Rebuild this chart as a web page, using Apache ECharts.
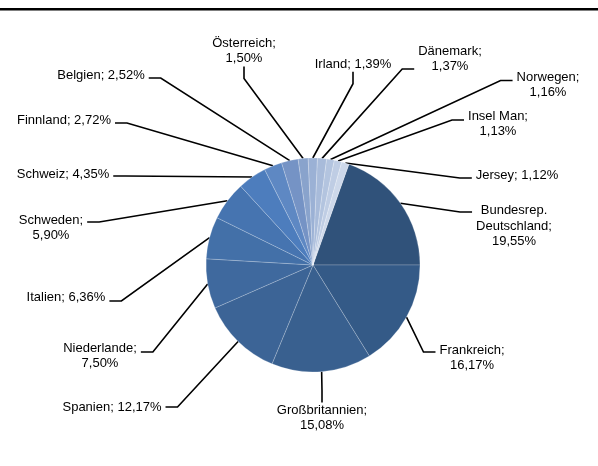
<!DOCTYPE html>
<html><head><meta charset="utf-8">
<script src="https://cdn.jsdelivr.net/npm/echarts@6/dist/echarts.min.js"></script>
<style>html,body{margin:0;padding:0;background:#fff}#c{width:598px;height:466px}</style>
</head><body><div id="c"></div>
<script>
// ---- data ----
const categories = ['Bundesrep. Deutschland','Frankreich','Großbritannien','Spanien','Niederlande','Italien','Schweden','Schweiz','Finnland','Belgien','Österreich','Irland','Dänemark','Norwegen','Insel Man','Jersey'];
const shares = [19.55,16.17,15.08,12.17,7.50,6.36,5.90,4.35,2.72,2.52,1.50,1.39,1.37,1.16,1.13,1.12];
const twoLineLabel = [true,true,true,false,true,false,true,false,false,false,true,false,true,true,true,false];

// ---- styling / layout ----
const sliceColors = ['#30527a','#345a87','#39608f','#3c6496','#3f699e','#4370a8','#4674b0','#4d7dbd','#5e88c3','#7593c5','#89a3cc','#9bb1d5','#a8bbda','#b3c4df','#bfcde4','#cdd8ea'];
// text block centres of the labels
const labelCenters = [[514,226],[472,358],[322,418],[112,407],[100,356],[66,297],[51,228],[63,174],[64,120],[101,75],[244,51],[353,64],[450,59],[548,85],[498,124],[517,175]];
// vertical offset (from text centre) where the leader line meets the label
const leaderOffset = [-14,-6,0,0,-4,4,-6,2,3,3,0,0,10,-4.5,-4,3];

const FONT = 'Liberation Sans, Arial, sans-serif';
function labelText(i){
  const name = categories[i].replace('Bundesrep. ', 'Bundesrep.\n');
  const pct = shares[i].toFixed(2).replace('.', ',') + '%';
  const txt = name + ';' + (twoLineLabel[i] ? '\n' : ' ') + pct;
  const lines = txt.split('\n').map(l => '{t|' + l + '}');
  const d = leaderOffset[i];
  if (d < 0) lines.unshift('{g| }');
  else if (d > 0) lines.push('{g| }');
  return lines.join('\n');
}
const total = shares.reduce((a,b)=>a+b,0);
// first slice ends at 3 o'clock
const startAngle = shares[0] / total * 360;

const chart = echarts.init(document.getElementById('c'), null, {renderer:'canvas'});
chart.setOption({
  animation: false,
  backgroundColor: '#fff',
  graphic: [{type:'rect', shape:{x:0, y:8, width:598, height:2.5}, style:{fill:'#000'}}],
  series: [{
    type: 'pie',
    center: [313, 265],
    radius: 107,
    startAngle: startAngle,
    clockwise: true,
    avoidLabelOverlap: false,
    data: categories.map((c,i)=>{
      const d = Math.abs(leaderOffset[i]);
      return {name:c, value:shares[i], itemStyle:{color:sliceColors[i]},
        label:{rich:{
          t:{fontFamily:FONT, fontSize:13, lineHeight:15.5, color:'#000', align:'center'},
          g:{fontFamily:FONT, fontSize:1, lineHeight: Math.max(1, 2*d), color:'rgba(0,0,0,0)'}
        }}};
    }),
    itemStyle: {borderColor:'rgba(255,255,255,0.35)', borderWidth:0.6},
    label: {
      show: true, position: 'outside',
      formatter: p => labelText(p.dataIndex),
      fontFamily: FONT,
      fontSize: 13, lineHeight: 15.5, color: '#000',
      align: 'center', padding: [0,4]
    },
    labelLine: {show:true, length:15, length2:12, lineStyle:{color:'#000', width:1.6}},
    labelLayout: p => {
      const c = labelCenters[p.dataIndex];
      return {x:c[0], y:c[1] + leaderOffset[p.dataIndex], align:'center', verticalAlign:'middle'};
    },
    emphasis: {disabled:true}
  }]
});
</script></body></html>
